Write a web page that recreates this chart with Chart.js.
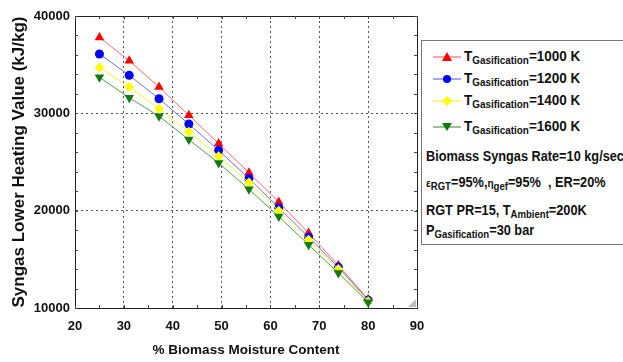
<!DOCTYPE html>
<html>
<head>
<meta charset="utf-8">
<script src="https://cdn.jsdelivr.net/npm/chart.js@4/dist/chart.umd.min.js"></script>
<style>
  html,body{margin:0;padding:0;background:#fff;overflow:hidden;width:623px;height:362px;}
  #wrap{position:relative;width:623px;height:362px;}
  canvas{position:absolute;left:0;top:0;}
  #legend{position:absolute;left:421px;top:40px;width:260px;height:203px;border:1px solid #777;border-right:none;background:#fff;
    font-family:"Liberation Sans",Arial,sans-serif;font-weight:bold;color:#111;}
  .row{position:absolute;left:10px;white-space:nowrap;display:flex;align-items:center;}
  .row svg{margin-right:2px;}
  .lt{font-size:15px;transform:scaleX(0.9);transform-origin:left center;display:inline-block;}
  .lt sub{font-size:11px;vertical-align:-3px;}
  .info{position:absolute;left:4px;white-space:nowrap;font-size:14px;transform:scaleX(0.91);transform-origin:left center;}
  .info sub{font-size:10.5px;vertical-align:-3px;}
  .small{font-size:11px;}
</style>
</head>
<body>
<div id="wrap">
<canvas id="c" width="623" height="362"></canvas>
<div id="legend"></div>
</div>
<script>
// ---- data ----
const moisture = [25, 31.1, 37.2, 43.3, 49.4, 55.6, 61.7, 67.8, 73.9, 80];
const lhv1000 = [37800, 35400, 32700, 29800, 26900, 23900, 20900, 17700, 14400, 10900];
const lhv1200 = [36100, 33900, 31500, 28900, 26200, 23300, 20300, 17300, 14200, 10800];
const lhv1400 = [34700, 32700, 30500, 28100, 25600, 22900, 20000, 17000, 14000, 10700];
const lhv1600 = [33700, 31600, 29700, 27300, 24900, 22200, 19400, 16500, 13600, 10600];
const seriesNames = ["1000 K", "1200 K", "1400 K", "1600 K"];
const xTickLabels = [20, 30, 40, 50, 60, 70, 80, 90];
const yTickLabels = [10000, 20000, 30000, 40000];

const styles = [
  {line:"#ff6b6b", fill:"#ff0000", pt:"triangle", rot:0, r:5.5},
  {line:"#6b6bff", fill:"#0000ff", pt:"circle", rot:0, r:4.5},
  {line:"#f2f23a", fill:"#ffff00", pt:"rectRot", rot:0, r:5},
  {line:"#4fa04f", fill:"#127a12", pt:"triangle", rot:180, r:5.5}
];
const allSeries = [lhv1000, lhv1200, lhv1400, lhv1600];

const datasets = allSeries.map((vals, i) => ({
  label: "TGasification=" + seriesNames[i],
  data: moisture.map((x, j) => ({x: x, y: vals[j]})),
  borderColor: styles[i].line,
  borderWidth: 1,
  backgroundColor: styles[i].fill,
  pointBackgroundColor: styles[i].fill,
  pointBorderColor: styles[i].fill,
  pointBorderWidth: 0,
  pointStyle: styles[i].pt,
  pointRotation: styles[i].rot,
  pointRadius: styles[i].r,
  tension: 0,
  order: 4 - i
}));

const FONT = "'Liberation Sans', Arial, sans-serif";

const framePlugin = {
  id: 'frame',
  afterDatasetsDraw(chart) {
    const {ctx, chartArea: a, scales} = chart;
    ctx.save();
    ctx.setLineDash([]);
    ctx.strokeStyle = '#222';
    ctx.lineWidth = 1;
    ctx.strokeRect(Math.round(a.left) + 0.5, Math.round(a.top) + 0.5, Math.round(a.right - a.left), Math.round(a.bottom - a.top));
    ctx.strokeStyle = '#444';
    scales.x.ticks.forEach(t => {
      const px = Math.round(scales.x.getPixelForValue(t.value)) + 0.5;
      const len = 3;
      ctx.beginPath();
      ctx.moveTo(px, a.bottom); ctx.lineTo(px, a.bottom - len);
      ctx.moveTo(px, a.top); ctx.lineTo(px, a.top + len);
      ctx.stroke();
    });
    scales.y.ticks.forEach(t => {
      const py = Math.round(scales.y.getPixelForValue(t.value)) + 0.5;
      const len = 3;
      ctx.beginPath();
      ctx.moveTo(a.left, py); ctx.lineTo(a.left + len, py);
      ctx.moveTo(a.right, py); ctx.lineTo(a.right - len, py);
      ctx.stroke();
    });
    ctx.fillStyle = '#bbb';
    ctx.beginPath();
    ctx.moveTo(a.right - 1, a.bottom - 9);
    ctx.lineTo(a.right - 1, a.bottom - 1);
    ctx.lineTo(a.right - 9, a.bottom - 1);
    ctx.closePath();
    ctx.fill();
    ctx.restore();
  }
};

new Chart(document.getElementById('c'), {
  type: 'line',
  data: { datasets },
  options: {
    responsive: false,
    animation: false,
    layout: { padding: { left: 0, top: 16, right: 206, bottom: 0 } },
    plugins: { legend: { display: false }, tooltip: { enabled: false } },
    scales: {
      x: {
        type: 'linear', min: 20, max: 90,
        afterFit(s) { s.height = 54; },
        afterBuildTicks(s) { const t = []; for (let k = 0; k < xTickLabels.length; k++) { t.push({value: xTickLabels[k]}); if (k < xTickLabels.length - 1) t.push({value: xTickLabels[k] + 5}); } s.ticks = t; },
        ticks: {
          autoSkip: false, maxRotation: 0, padding: 11, color: '#111',
          font: { family: FONT, size: 13, weight: 'bold' },
          callback: v => xTickLabels.includes(v) ? String(v) : ''
        },
        grid: {
          drawTicks: false,
          color: c => (c.tick && xTickLabels.includes(c.tick.value) && c.tick.value > 20 && c.tick.value < 90) ? '#555' : 'rgba(0,0,0,0)',
          lineWidth: 1
        },
        border: { display: true, color: '#222', dash: [2, 3] },
        title: {
          display: true, text: '% Biomass Moisture Content', color: '#111',
          font: { family: FONT, size: 13.5, weight: 'bold' }, padding: { top: 2 }
        }
      },
      y: {
        type: 'linear', min: 10000, max: 40000,
        afterFit(s) { s.width = 75; },
        afterBuildTicks(s) { const t = []; for (let k = 0; k < yTickLabels.length; k++) { t.push({value: yTickLabels[k]}); if (k < yTickLabels.length - 1) for (let m = 1; m < 5; m++) t.push({value: yTickLabels[k] + m * 2000}); } s.ticks = t; },
        ticks: {
          autoSkip: false, padding: 5, color: '#111',
          font: { family: FONT, size: 13, weight: 'bold' },
          callback: v => yTickLabels.includes(v) ? String(v) : ''
        },
        grid: {
          drawTicks: false,
          color: c => (c.tick && yTickLabels.includes(c.tick.value) && c.tick.value > 10000 && c.tick.value < 40000) ? '#555' : 'rgba(0,0,0,0)',
          lineWidth: 1
        },
        border: { display: true, color: '#222', dash: [2, 3] },
        title: {
          display: true, text: 'Syngas Lower Heating Value (kJ/kg)', color: '#111',
          font: { family: FONT, size: 17, weight: 'bold' }, padding: { top: 9, bottom: 0 }
        }
      }
    }
  },
  plugins: [framePlugin]
});

// ---- legend (HTML, with subscripts) ----
function markerSvg(s) {
  let shape = '';
  const cx = 15, cy = 6;
  if (s.pt === 'circle') shape = `<circle cx="${cx}" cy="${cy}" r="4" fill="${s.fill}"/>`;
  else if (s.pt === 'rectRot') shape = `<polygon points="${cx},${cy-5} ${cx+5},${cy} ${cx},${cy+5} ${cx-5},${cy}" fill="${s.fill}"/>`;
  else if (s.rot === 180) shape = `<polygon points="${cx-5},${cy-4} ${cx+5},${cy-4} ${cx},${cy+4}" fill="${s.fill}"/>`;
  else shape = `<polygon points="${cx-5},${cy+4} ${cx+5},${cy+4} ${cx},${cy-5}" fill="${s.fill}"/>`;
  return `<svg width="30" height="12" viewBox="0 0 30 12"><line x1="1" y1="${cy}" x2="29" y2="${cy}" stroke="${s.line}" stroke-width="1.2"/>${shape}</svg>`;
}
const lg = document.getElementById('legend');
const rowTops = [6, 28, 50, 76];
seriesNames.forEach((n, i) => {
  const d = document.createElement('div');
  d.className = 'row';
  d.style.top = rowTops[i] + 'px';
  d.innerHTML = markerSvg(styles[i]) + `<span class="lt">T<sub>Gasification</sub>=${n}</span>`;
  lg.appendChild(d);
});
const info = [
  {top: 107, html: 'Biomass Syngas Rate=10 kg/sec'},
  {top: 133, html: '<span class="small">ε<sub>RGT</sub></span>=95%,<span class="small">η</span><sub>gef</sub>=95%&nbsp; , ER=20%'},
  {top: 161, html: 'RGT PR=15, T<sub>Ambient</sub>=200K'},
  {top: 181, html: 'P<sub>Gasification</sub>=30 bar'}
];
info.forEach(o => {
  const d = document.createElement('div');
  d.className = 'info';
  d.style.top = o.top + 'px';
  d.innerHTML = o.html;
  lg.appendChild(d);
});
</script>
</body>
</html>
